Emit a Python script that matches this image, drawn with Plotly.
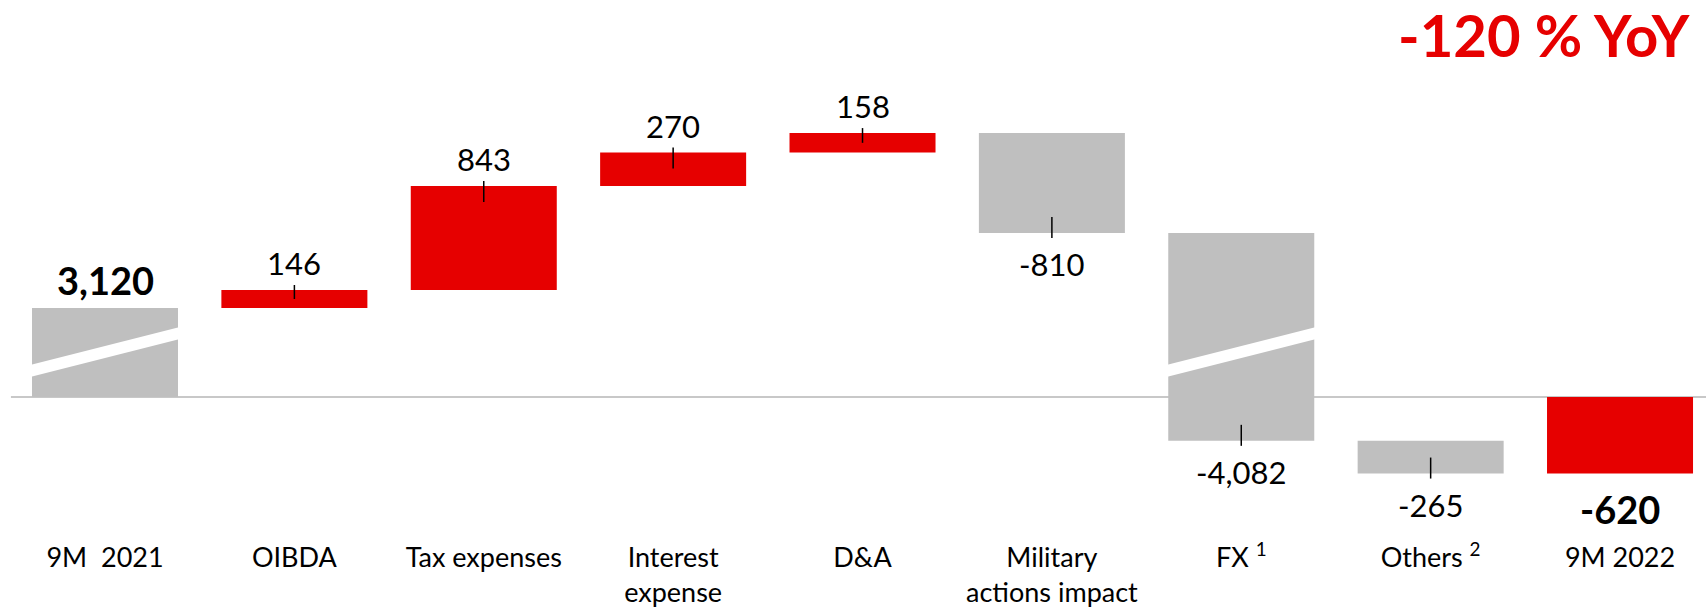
import plotly.graph_objects as go

# ---- data ----
categories = ["9M\u00a0 2021", "OIBDA", "Tax expenses", "Interest<br>expense", "D&A",
              "Military<br>actions impact", "FX <sup>1</sup>", "Others <sup>2</sup>", "9M 2022"]
values = [3120, 146, 843, 270, 158, -810, -4082, -265, -620]
kinds = ["total", "delta", "delta", "delta", "delta", "delta", "delta", "delta", "total"]
headline = "-120 % YoY"

# ---- style ----
RED = "#E60000"
GREY = "#BFBFBF"
FONT = "Lato"
W, H = 1706, 607
MB = 80
Y_RANGE = [-1053, 3216]          # display units (broken axis)
BREAK_AT = 1000                   # values above this are shifted down
BREAK_SHIFT = 2399                # size of the axis break
BAR_W = 0.771
X_RANGE = [-0.5545, 8.454]

units_per_px = (Y_RANGE[1] - Y_RANGE[0]) / (H - MB)


def disp(v):
    return v - BREAK_SHIFT if v > BREAK_AT else v


# waterfall geometry
bases, ends = [], []
running = 0
for v, k in zip(values, kinds):
    if k == "total":
        b, e = 0, v
        running = v
    else:
        b, e = running, running + v
        running = e
    bases.append(b)
    ends.append(e)

colors = []
for v, k in zip(values, kinds):
    if k == "total":
        colors.append(RED if v < 0 else GREY)
    else:
        colors.append(RED if v > 0 else GREY)

x = list(range(len(categories)))
d_base = [disp(b) for b in bases]
d_end = [disp(e) for e in ends]

fig = go.Figure()
fig.add_trace(go.Bar(
    x=x, base=d_base, y=[e - b for b, e in zip(d_base, d_end)],
    width=BAR_W, marker=dict(color=colors, line=dict(width=0)),
    hoverinfo="skip",
))

shapes = [dict(type="line", xref="paper", yref="y", x0=0.0064, x1=1, y0=0, y1=0,
               line=dict(color="#C8C8C8", width=2), layer="below")]

annotations = []
for i, (v, k, b, e) in enumerate(zip(values, kinds, bases, ends)):
    de = disp(e)
    db = disp(b)
    up = e > b
    bold = k == "total"
    label = f"{v:,}"
    if bold:
        txt = f"<b>{label}</b>"
        size = 38
        shift = 28 if up else -35
    else:
        txt = label
        size = 31
        shift = 27 if up else -31
    annotations.append(dict(x=i, y=de, xref="x", yref="y", text=txt, showarrow=False,
                            font=dict(family=FONT, size=size, color="#000"),
                            yanchor="middle", xanchor="center", yshift=shift))
    # break band
    lo, hi = min(b, e), max(b, e)
    if lo < BREAK_AT < hi:
        xl, xr = i - BAR_W / 2 - 0.01, i + BAR_W / 2 + 0.01
        path = f"M {xl},162 L {xr},470 L {xr},567 L {xl},259 Z"
        shapes.append(dict(type="path", xref="x", yref="y", path=path,
                           fillcolor="white", line=dict(width=0), layer="above"))
    # marker tick
    if k == "delta":
        h_px = abs(de - db) / units_per_px
        inside = min(16, h_px / 2)
        if up:
            y0, y1 = 5, -inside
        else:
            y0, y1 = -5, inside
        shapes.append(dict(type="line", xref="x", yref="y", x0=i, x1=i,
                           ysizemode="pixel", yanchor=de, y0=y0, y1=y1,
                           line=dict(color="#000", width=1.5), layer="above"))

annotations.append(dict(x=1, y=1, xref="paper", yref="paper", text=f"<b>{headline}</b>",
                        showarrow=False, xanchor="right", yanchor="middle",
                        xshift=-14, yshift=-34,
                        font=dict(family=FONT, size=58, color=RED)))

fig.update_layout(
    width=W, height=H,
    margin=dict(l=0, r=0, t=0, b=MB),
    paper_bgcolor="white", plot_bgcolor="white",
    showlegend=False,
    shapes=shapes, annotations=annotations,
    xaxis=dict(range=X_RANGE, tickvals=x, ticktext=categories, showgrid=False,
               zeroline=False, showline=False, ticks="", fixedrange=True,
               ticklabelstandoff=12, automargin=False,
               tickfont=dict(family=FONT, size=27, color="#000")),
    yaxis=dict(range=Y_RANGE, visible=False, fixedrange=True, automargin=False),
)

fig.write_html("out.html", config={"displayModeBar": False})
